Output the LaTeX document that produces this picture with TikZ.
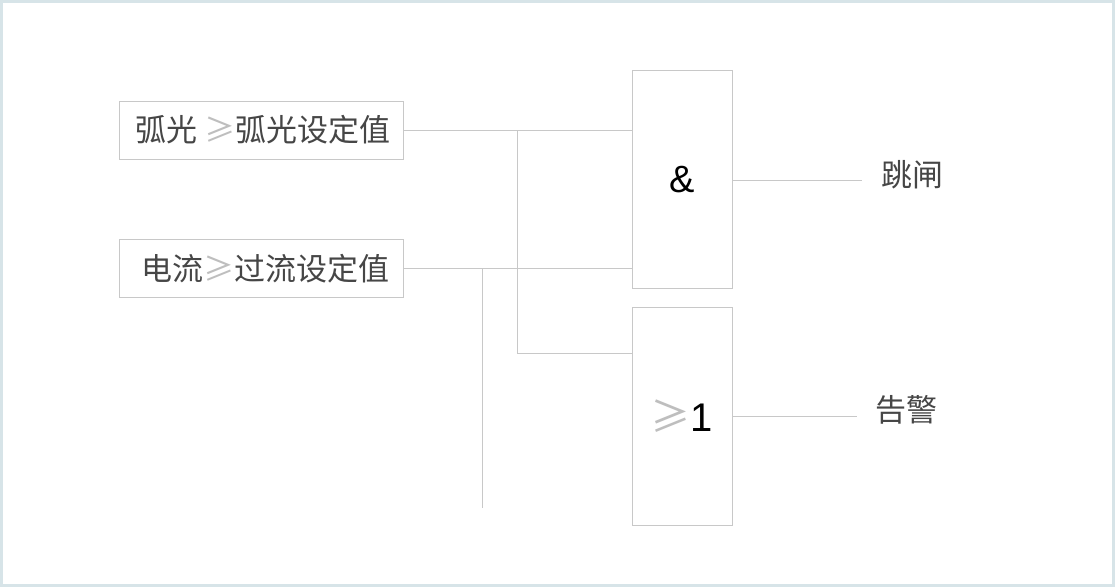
\documentclass[tikz,border=0pt]{standalone}
\usepackage{fontspec}
\newfontfamily\cjk{Noto Sans CJK SC}
\newfontfamily\gatefont{Liberation Sans}
\definecolor{wire}{RGB}{200,200,200}
\definecolor{txt}{RGB}{70,70,70}
\definecolor{geq}{RGB}{190,190,190}
\definecolor{frame}{RGB}{215,228,232}
\begin{document}
\begin{tikzpicture}[x=1pt,y=-1pt,
    inbox/.style={draw=wire,minimum width=284pt,minimum height=58pt,inner sep=0pt,font=\cjk\fontsize{31}{33}\selectfont,text=txt},
    gate/.style={draw=wire,minimum width=100pt,minimum height=218pt,inner sep=0pt},
    label/.style={font=\cjk\fontsize{31}{33}\selectfont,text=txt},
    wire line/.style={draw=wire,line width=1pt}]
  \draw[frame,line width=3pt,fill=white] (1.5,1.5) rectangle (1113.5,585.5);

  \node[inbox] (arc) at (261,130) {\hspace{4pt}弧光 \textcolor{geq}{≥}弧光设定值};
  \node[inbox] (cur) at (261,268.5) {\hspace{8pt}电流\textcolor{geq}{≥}过流设定值};
  \node[gate] (and) at (682,179.5) {\gatefont\fontsize{38}{40}\selectfont\&};
  \node[gate] (or) at (682,416) {\cjk\fontsize{40}{42}\selectfont\textcolor{geq}{≥}\gatefont 1};
  \node[label] (trip) at (912,175) {跳闸};
  \node[label] (alarm) at (906,410) {告警};

  \coordinate (j1) at (517,130);
  \coordinate (j2) at (482,268);
  \coordinate (tail) at (482,508);

  \path[wire line]
    (arc.east) -- (and.west |- arc.east)
    (cur.east |- j2) -- (and.west |- j2)
    (j1) |- (or.west |- 0,353)
    (j2) -- (tail)
    (and.east |- 0,180) -- (862,180)
    (or.east) -- (857,416);
\end{tikzpicture}
\end{document}
